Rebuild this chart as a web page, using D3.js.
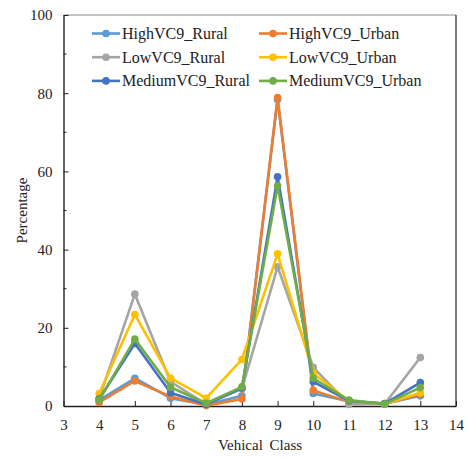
<!DOCTYPE html>
<html>
<head>
<meta charset="utf-8">
<script src="https://cdn.jsdelivr.net/npm/d3@7"></script>
<style>
  html, body { margin: 0; padding: 0; background: #fff; }
  svg { display: block; font-family: "Liberation Serif", "Times New Roman", serif; }
</style>
</head>
<body>
<svg id="chart" width="467" height="458"></svg>
<script>
// Vehicle classes on the x axis
const vehicleClasses = [4, 5, 6, 7, 8, 9, 10, 11, 12, 13];

// Percentage share of each vehicle class, per site group
const highVC9Rural   = [1.5, 7.1, 2.0, 0.3, 2.6, 78.4, 3.2, 1.2, 0.6, 2.6];
const highVC9Urban   = [0.9, 6.4, 2.4, 0.1, 1.8, 78.9, 4.0, 1.0, 0.5, 3.0];
const lowVC9Rural    = [2.0, 28.6, 6.2, 0.5, 4.4, 35.6, 9.9, 0.4, 0.5, 12.4];
const lowVC9Urban    = [3.2, 23.4, 7.1, 2.0, 11.9, 38.9, 8.4, 1.2, 0.5, 3.4];
const mediumVC9Rural = [1.8, 16.0, 3.4, 0.4, 4.6, 58.6, 6.2, 1.3, 0.6, 6.0];
const mediumVC9Urban = [1.5, 17.1, 4.8, 0.7, 4.9, 56.3, 7.1, 1.5, 0.5, 4.7];

const seriesNames  = ["HighVC9_Rural", "HighVC9_Urban", "LowVC9_Rural", "LowVC9_Urban", "MediumVC9_Rural", "MediumVC9_Urban"];
const seriesValues = [highVC9Rural, highVC9Urban, lowVC9Rural, lowVC9Urban, mediumVC9Rural, mediumVC9Urban];
const seriesColors = ["#5B9BD5", "#ED7D31", "#A5A5A5", "#FFC000", "#4472C4", "#70AD47"];

const xTicks = [3, 4, 5, 6, 7, 8, 9, 10, 11, 12, 13, 14];
const yTicks = [0, 20, 40, 60, 80, 100];
const yMinorTicks = [10, 30, 50, 70, 90];

(function draw() {
  const svg = d3.select("#chart");
  const plotLeft = 63.5, plotRight = 456, plotTop = 15, plotBottom = 406;

  const x = d3.scaleLinear().domain([3, 14]).range([plotLeft, plotRight]);
  const y = d3.scaleLinear().domain([0, 100]).range([plotBottom, plotTop]);

  // Plot frame: light top edge, dark right edge
  svg.append("line").attr("x1", plotLeft).attr("x2", plotRight).attr("y1", plotTop).attr("y2", plotTop)
    .attr("stroke", "#8c8c8c").attr("stroke-width", 1.2);
  svg.append("line").attr("x1", plotRight).attr("x2", plotRight).attr("y1", plotTop).attr("y2", plotBottom)
    .attr("stroke", "#222").attr("stroke-width", 1.2);

  // Minor y ticks (inside)
  svg.append("g").selectAll("line").data(yMinorTicks).join("line")
    .attr("x1", plotLeft).attr("x2", plotLeft + 3)
    .attr("y1", d => y(d)).attr("y2", d => y(d))
    .attr("stroke", "#222").attr("stroke-width", 1);

  // Y axis with inward ticks
  const yAxis = svg.append("g")
    .attr("transform", `translate(${plotLeft},0)`)
    .call(d3.axisLeft(y).tickValues(yTicks).tickSizeInner(-5).tickSizeOuter(0).tickPadding(11));
  yAxis.select(".domain").attr("stroke", "#222").attr("stroke-width", 1.4);
  yAxis.selectAll(".tick line").attr("stroke", "#222");
  yAxis.selectAll("text").attr("font-size", 15).attr("font-family", "Liberation Serif").attr("fill", "#222");

  // X axis with inward ticks
  const xAxis = svg.append("g")
    .attr("transform", `translate(0,${plotBottom})`)
    .call(d3.axisBottom(x).tickValues(xTicks).tickSizeInner(-5).tickSizeOuter(0).tickPadding(13));
  xAxis.select(".domain").attr("stroke", "#222").attr("stroke-width", 1.4);
  xAxis.selectAll(".tick line").attr("stroke", "#222");
  xAxis.selectAll("text").attr("font-size", 15).attr("font-family", "Liberation Serif").attr("fill", "#222");

  // Axis titles
  svg.append("text")
    .attr("x", 260).attr("y", 450)
    .attr("text-anchor", "middle")
    .attr("font-size", 15).attr("fill", "#222")
    .attr("word-spacing", 3)
    .text("Vehical Class");
  svg.append("text")
    .attr("transform", `translate(27,${(plotTop + plotBottom) / 2}) rotate(-90)`)
    .attr("text-anchor", "middle")
    .attr("font-size", 15).attr("fill", "#222")
    .text("Percentage");

  // Series lines and markers
  const line = d3.line().x((d, i) => x(vehicleClasses[i])).y(d => y(d));
  seriesValues.forEach((vals, s) => {
    const g = svg.append("g");
    g.append("path").datum(vals)
      .attr("d", line)
      .attr("fill", "none")
      .attr("stroke", seriesColors[s])
      .attr("stroke-width", 2.6)
      .attr("stroke-linejoin", "round");
    g.selectAll("circle").data(vals).join("circle")
      .attr("cx", (d, i) => x(vehicleClasses[i]))
      .attr("cy", d => y(d))
      .attr("r", 3.8)
      .attr("fill", seriesColors[s]);
  });

  // Legend: two columns, three rows
  const legend = svg.append("g");
  seriesNames.forEach((name, i) => {
    const col = i % 2, row = Math.floor(i / 2);
    const lx = col === 0 ? 92 : 259;
    const ly = 33.5 + row * 23.7;
    const item = legend.append("g");
    item.append("line").attr("x1", lx).attr("x2", lx + 28).attr("y1", ly).attr("y2", ly)
      .attr("stroke", seriesColors[i]).attr("stroke-width", 2.6);
    item.append("circle").attr("cx", lx + 14).attr("cy", ly).attr("r", 3.8).attr("fill", seriesColors[i]);
    item.append("text").attr("x", lx + 30).attr("y", ly + 5.5)
      .attr("font-size", 16).attr("fill", "#222").text(name);
  });
})();
</script>
</body>
</html>
